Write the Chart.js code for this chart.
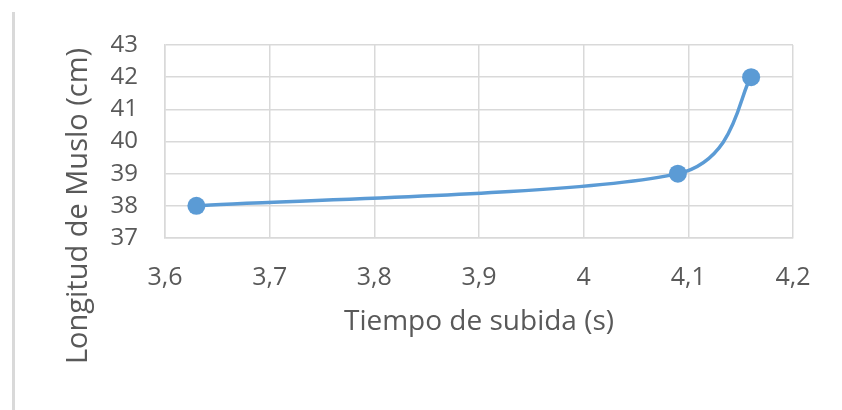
<!DOCTYPE html>
<html>
<head>
<meta charset="utf-8">
<script src="https://cdn.jsdelivr.net/npm/chart.js@4/dist/chart.umd.min.js"></script>
<style>
  html, body { margin: 0; padding: 0; background: #ffffff; }
  #wrap { width: 842px; height: 410px; position: relative; }
</style>
</head>
<body>
<div id="wrap"><canvas id="c" width="842" height="410"></canvas></div>
<script>
// Tiempo de subida (s) vs. longitud de muslo (cm)
const tiempos = [3.63, 4.09, 4.16];
const longitudes = [38, 39, 42];
const xTicks = [3.6, 3.7, 3.8, 3.9, 4.0, 4.1, 4.2];
const yTicks = [37, 38, 39, 40, 41, 42, 43];
const xTitle = 'Tiempo de subida (s)';
const yTitle = 'Longitud de Muslo (cm)';

const FONT = "'Open Sans', 'Liberation Sans', sans-serif";
const TEXT = '#595959';
const GRID = '#d9d9d9';
const BLUE = '#5b9bd5';

const points = tiempos.map((t, i) => ({ x: t, y: longitudes[i] }));

// Spreadsheet-style smoothing: control arms are 1/6 of the chord between
// neighbours, shortened when the adjacent segment is much shorter.
function smoothControlPoints(pts) {
  const n = pts.length;
  const f = 1 / 6;
  for (let i = 0; i < n; i++) {
    const p = pts[i];
    const prev = pts[Math.max(i - 1, 0)];
    const next = pts[Math.min(i + 1, n - 1)];
    const dx = next.x - prev.x, dy = next.y - prev.y;
    const chord = Math.hypot(dx, dy);
    const dNext = Math.hypot(next.x - p.x, next.y - p.y);
    const dPrev = Math.hypot(p.x - prev.x, p.y - prev.y);
    const kNext = chord ? Math.min(f, dNext / (2 * chord)) : 0;
    const kPrev = chord ? Math.min(f, dPrev / (2 * chord)) : 0;
    p.cp2x = p.x + dx * kNext; p.cp2y = p.y + dy * kNext;
    p.cp1x = p.x - dx * kPrev; p.cp1y = p.y - dy * kPrev;
  }
}

const decor = {
  id: 'decor',
  beforeDraw(chart) {
    // thin frame line along the left side
    const ctx = chart.ctx;
    ctx.save();
    ctx.strokeStyle = '#d9d9d9';
    ctx.lineWidth = 3;
    ctx.beginPath();
    ctx.moveTo(13.5, 12);
    ctx.lineTo(13.5, 410);
    ctx.stroke();
    ctx.restore();
  },
  beforeDatasetDraw(chart, args) {
    const line = args.meta.dataset;
    line.updateControlPoints(chart.chartArea);
    smoothControlPoints(args.meta.data);
  },
  afterDraw(chart) {
    // rotated y-axis title
    const ctx = chart.ctx;
    ctx.save();
    ctx.translate(79, 206);
    ctx.rotate(-Math.PI / 2);
    ctx.fillStyle = TEXT;
    ctx.font = `29px ${FONT}`;
    ctx.textAlign = 'center';
    ctx.textBaseline = 'middle';
    ctx.fillText(yTitle, 0, 0);
    ctx.restore();
  }
};

new Chart(document.getElementById('c'), {
  type: 'scatter',
  data: {
    datasets: [{
      data: points,
      showLine: true,
      borderColor: BLUE,
      backgroundColor: BLUE,
      borderWidth: 3.5,
      pointRadius: 9,
      pointHoverRadius: 9,
      pointBorderWidth: 0,
      tension: 0.4
    }]
  },
  options: {
    responsive: false,
    animation: false,
    events: [],
    layout: { padding: { left: 0, right: 49, top: 45, bottom: 0 } },
    plugins: { legend: { display: false }, tooltip: { enabled: false } },
    scales: {
      x: {
        type: 'linear',
        min: 3.6, max: 4.2,
        afterBuildTicks(scale) { scale.ticks = xTicks.map(v => ({ value: v })); },
        afterFit(scale) { scale.height = 172; },
        grid: { color: GRID, lineWidth: 1.5, drawTicks: false },
        border: { color: GRID, width: 1.5 },
        ticks: {
          color: TEXT,
          font: { family: FONT, size: 25 },
          padding: 25,
          maxRotation: 0,
          autoSkip: false,
          callback: v => String(Math.round(v * 10) / 10).replace('.', ',')
        },
        title: {
          display: true,
          text: xTitle,
          color: TEXT,
          font: { family: FONT, size: 28 },
          padding: { top: 0, bottom: 71 }
        }
      },
      y: {
        min: 37, max: 43,
        afterBuildTicks(scale) { scale.ticks = yTicks.map(v => ({ value: v })); },
        afterFit(scale) { scale.width = 165; },
        grid: { color: GRID, lineWidth: 1.5, drawTicks: false },
        border: { color: GRID, width: 1.5 },
        ticks: {
          color: TEXT,
          font: { family: FONT, size: 24 },
          padding: 27,
          autoSkip: false
        }
      }
    }
  },
  plugins: [decor]
});
</script>
</body>
</html>
